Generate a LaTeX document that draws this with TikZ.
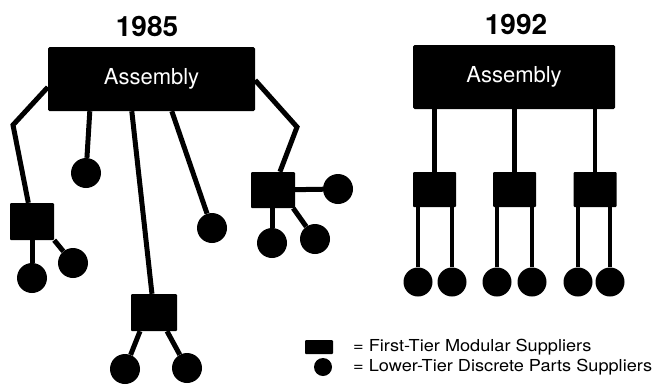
\documentclass[tikz,border=0pt]{standalone}
\usepackage{fontspec}
\setmainfont{TeX Gyre Heros}
\usetikzlibrary{calc}
\begin{document}
\begin{tikzpicture}[x=1pt,y=-1pt,
  asm/.style={rectangle,fill=black,rounded corners=1.5pt,inner sep=0pt,text=white,font=\fontsize{22}{24}\selectfont},
  modsq/.style={rectangle,fill=black,rounded corners=1pt,inner sep=0pt},
  partc/.style={circle,fill=black,inner sep=0pt,minimum size=30pt},
  title/.style={font=\fontsize{28}{30}\selectfont\bfseries},
  link/.style={line width=5pt},
  linkb/.style={line width=4.5pt},
  legtext/.style={anchor=west,inner sep=0pt,font=\fontsize{16.5}{18}\selectfont}]
\useasboundingbox (0,0) rectangle (653,389);
% ---------- 1985 ----------
\node[title] (T1) at (147,26) {1985};
\node[asm,minimum width=207pt,minimum height=64pt] (A1) at (151.5,79) {Assembly};
\node[modsq,minimum width=44pt,minimum height=37pt] (S1) at (32,221.5) {};
\node[modsq,minimum width=46pt,minimum height=37pt] (S2) at (154,312.5) {};
\node[modsq,minimum width=44pt,minimum height=36pt] (S3) at (273,190) {};
\node[partc] (C1) at (86,173) {};
\node[partc] (C2) at (212,228) {};
\node[partc] (C3) at (338,189) {};
\node[partc] (C4) at (272,243) {};
\node[partc] (C5) at (315,239) {};
\node[partc] (C6) at (32,278) {};
\node[partc] (C7) at (73,263) {};
\node[partc] (C8) at (125,369) {};
\node[partc] (C9) at (187,368) {};
\coordinate (k1) at (13,125);
\coordinate (k2) at (297,127);
\draw[link] ($(A1.south west)+(0,-24)$) -- (k1) -- (S1);
\draw[link] ($(A1.south west)+(42,0)$) -- (C1);
\draw[link] ($(A1.south west)+(84,0)$) -- (S2);
\draw[link] ($(A1.south west)+(124,0)$) -- (C2);
\draw[link] ($(A1.south east)+(0,-31)$) -- (k2) -- (S3);
\draw[link] (S3) -- (C3);
\draw[link] (S3.south -| C4) -- (C4);
\draw[link] ($(S3.south east)+(-2,0)$) -- (C5);
\draw[link] (S1.south -| C6) -- (C6);
\draw[link] (S1.south east) -- (C7);
\draw[link] ($(S2.south)+(-14,0)$) -- (C8);
\draw[link] ($(S2.south)+(13,0)$) -- (C9);
% ---------- 1992 ----------
\node[title] (T2) at (516,24) {1992};
\node[asm,minimum width=202pt,minimum height=64pt] (A2) at (514,77) {Assembly};
\node[modsq,minimum width=43pt,minimum height=35pt] (R1) at (434.5,189.5) {};
\node[modsq,minimum width=43pt,minimum height=35pt] (R2) at (514.5,189.5) {};
\node[modsq,minimum width=43pt,minimum height=35pt] (R3) at (595,189.5) {};
\node[partc,minimum size=29pt] (D1) at (418,282) {};
\node[partc,minimum size=29pt] (D2) at (452,282) {};
\node[partc,minimum size=29pt] (D3) at (497,282) {};
\node[partc,minimum size=29pt] (D4) at (532,282) {};
\node[partc,minimum size=29pt] (D5) at (578,282) {};
\node[partc,minimum size=29pt] (D6) at (610,282) {};
\foreach \r in {R1,R2,R3} \draw[linkb] (A2.south -| \r) -- (\r);
\draw[linkb] (R1.south -| D1) -- (D1);
\draw[linkb] (R1.south -| D2) -- (D2);
\draw[linkb] (R2.south -| D3) -- (D3);
\draw[linkb] (R2.south -| D4) -- (D4);
\draw[linkb] (R3.south -| D5) -- (D5);
\draw[linkb] (R3.south -| D6) -- (D6);
% ---------- legend ----------
\node[modsq,minimum width=28pt,minimum height=14pt] (LS) at (319,347) {};
\node[partc,minimum size=18pt] (LC) at (323,367) {};
\node[legtext] (L1) at (353,347) {\scalebox{1.1}[1]{= First-Tier Modular Suppliers}};
\node[legtext] (L2) at (353,367) {\scalebox{1.1}[1]{= Lower-Tier Discrete Parts Suppliers}};
\end{tikzpicture}
\end{document}
